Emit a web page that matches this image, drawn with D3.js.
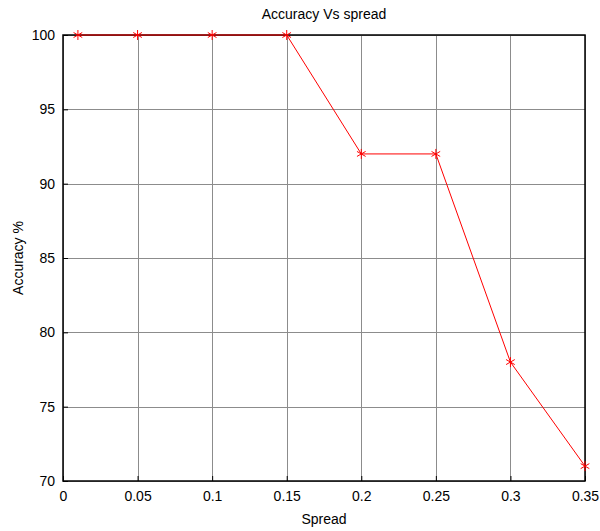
<!DOCTYPE html>
<html>
<head>
<meta charset="utf-8">
<script src="https://cdn.jsdelivr.net/npm/d3@7"></script>
<style>
  body { margin: 0; background: #fff; }
  svg { display: block; font-family: Arial, "Liberation Sans", sans-serif; }
</style>
</head>
<body>
<div id="chart"></div>
<script>
var spread = [0.01, 0.05, 0.1, 0.15, 0.2, 0.25, 0.3, 0.35];
var accuracy = [100, 100, 100, 100, 92, 92, 78, 71];
var xTicks = [0, 0.05, 0.1, 0.15, 0.2, 0.25, 0.3, 0.35];
var yTicks = [70, 75, 80, 85, 90, 95, 100];

var width = 600, height = 531;
var margin = { top: 35, right: 15, bottom: 50, left: 63 };
var chart_width = width - margin.left - margin.right;
var chart_height = height - margin.top - margin.bottom;

var svg = d3.select('#chart').append('svg')
    .attr('width', width)
    .attr('height', height);

var x = d3.scaleLinear().domain([0, 0.35]).range([0, chart_width]);
var y = d3.scaleLinear().domain([70, 100]).range([chart_height, 0]);

var g = svg.append('g')
    .attr('transform', 'translate(' + margin.left + ',' + margin.top + ')');

// grid
g.append('g').selectAll('line.vx')
    .data(xTicks)
    .enter().append('line')
    .attr('x1', function(d) { return Math.round(x(d)) + 0.5; })
    .attr('x2', function(d) { return Math.round(x(d)) + 0.5; })
    .attr('y1', 0).attr('y2', chart_height)
    .style('stroke', '#8c8c8c').style('stroke-width', 1);
g.append('g').selectAll('line.hy')
    .data(yTicks)
    .enter().append('line')
    .attr('y1', function(d) { return Math.round(y(d)) + 0.5; })
    .attr('y2', function(d) { return Math.round(y(d)) + 0.5; })
    .attr('x1', 0).attr('x2', chart_width)
    .style('stroke', '#8c8c8c').style('stroke-width', 1);

// axes
var xAxis = d3.axisBottom(x).tickValues(xTicks).tickSize(-5).tickPadding(10)
    .tickFormat(function(d) { return d3.format('')(+d.toFixed(2)); });
var yAxis = d3.axisLeft(y).tickValues(yTicks).tickSize(-5).tickPadding(8);

var gx = g.append('g')
    .attr('transform', 'translate(0,' + chart_height + ')')
    .call(xAxis);
var gy = g.append('g').call(yAxis);
[gx, gy].forEach(function(a) {
    a.select('.domain').remove();
    a.selectAll('.tick line').style('stroke', '#000');
    a.selectAll('.tick text').style('font-size', '14px').style('fill', '#000')
        .style('font-family', 'Arial, "Liberation Sans", sans-serif');
});

// box
g.append('rect')
    .attr('x', 0).attr('y', 0)
    .attr('width', chart_width).attr('height', chart_height)
    .style('fill', 'none').style('stroke', '#000').style('stroke-width', 1.5);

// line
var line = d3.line()
    .x(function(d, i) { return x(spread[i]); })
    .y(function(d) { return y(d); });
g.append('path')
    .datum(accuracy)
    .attr('d', line)
    .style('fill', 'none').style('stroke', '#ff0000').style('stroke-width', 1);

// markers
g.selectAll('path.mark')
    .data(accuracy)
    .enter().append('path')
    .attr('class', 'mark')
    .attr('transform', function(d, i) { return 'translate(' + x(spread[i]) + ',' + y(d) + ')'; })
    .attr('d', d3.symbol().type(d3.symbolAsterisk).size(70))
    .style('fill', 'none').style('stroke', '#ff0000').style('stroke-width', 1);

// labels
svg.append('text')
    .attr('x', margin.left + chart_width / 2).attr('y', 19)
    .attr('text-anchor', 'middle')
    .style('font-size', '14px')
    .text('Accuracy Vs spread');
svg.append('text')
    .attr('x', margin.left + chart_width / 2).attr('y', 524)
    .attr('text-anchor', 'middle')
    .style('font-size', '14px')
    .text('Spread');
svg.append('text')
    .attr('transform', 'translate(23,' + (margin.top + chart_height / 2) + ') rotate(-90)')
    .attr('text-anchor', 'middle')
    .style('font-size', '14px')
    .text('Accuracy %');
</script>
</body>
</html>
